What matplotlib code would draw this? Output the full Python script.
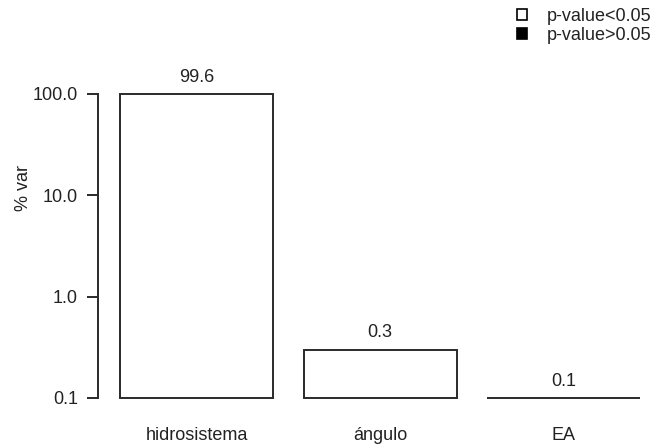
import matplotlib
matplotlib.use("Agg")
import matplotlib.pyplot as plt
from matplotlib.patches import Patch
import numpy as np

categories = ["hidrosistema", "ángulo", "EA"]
values = [99.6, 0.3, 0.1]
value_labels = ["99.6", "0.3", "0.1"]
significant = [True, True, True]  # p-value<0.05 -> white fill
yticks = [0.1, 1.0, 10.0, 100.0]
ytick_labels = ["0.1", "1.0", "10.0", "100.0"]
legend_labels = ["p-value<0.05", "p-value>0.05"]

plt.rcParams["font.family"] = ["Liberation Sans", "DejaVu Sans"]
W, H = 653, 445
fig = plt.figure(figsize=(W / 100, H / 100), dpi=100)
left, right, top, bottom = 98, 648, 94, 398
ax = fig.add_axes([left / W, 1 - bottom / H, (right - left) / W, (bottom - top) / H])

lc = "#2a2a2a"
base = 0.1
x = 0.7 + 1.2 * np.arange(len(categories))
heights = [v - base for v in values]
colors = ["white" if s else "black" for s in significant]
ax.bar(x, heights, width=1.0, bottom=base, color=colors, edgecolor=lc,
       linewidth=1.4, clip_on=False)
ax.set_yscale("log")
ax.set_ylim(0.1, 100)
ax.set_xlim(0.056, 3.65)

for xi, v, lab in zip(x, values, value_labels):
    ax.annotate(lab, (xi, v), xytext=(0, 12), textcoords="offset points",
                ha="center", va="center", fontsize=13, color="#222222",
                annotation_clip=False)

ax.set_yticks(yticks)
ax.set_yticklabels(ytick_labels)
ax.yaxis.set_minor_locator(matplotlib.ticker.NullLocator())
ax.tick_params(axis="y", length=8, width=1.4, color=lc, pad=6.5, labelsize=13,
               labelcolor="#222222")
ax.set_xticks(x)
ax.set_xticklabels(categories)
ax.tick_params(axis="x", length=0, pad=21, labelsize=13, labelcolor="#222222")

for s in ["top", "right", "bottom"]:
    ax.spines[s].set_visible(False)
ax.spines["left"].set_color(lc)
ax.spines["left"].set_linewidth(1.4)

ax.set_ylabel("% var", fontsize=13, color="#222222")
ax.yaxis.set_label_coords(-0.12, 0.69)

handles = [Patch(facecolor="white", edgecolor="black", linewidth=1.2),
           Patch(facecolor="black", edgecolor="black", linewidth=1.2)]
fig.legend(handles=handles, labels=legend_labels, loc="upper left",
           bbox_to_anchor=(517 / W, 1 - 8 / H), frameon=False, fontsize=13,
           handlelength=0.55, handleheight=0.55, handletextpad=1.1,
           labelspacing=0.1, borderpad=0.0, borderaxespad=0.0,
           labelcolor="#222222")

fig.savefig("out.png", dpi=100)
